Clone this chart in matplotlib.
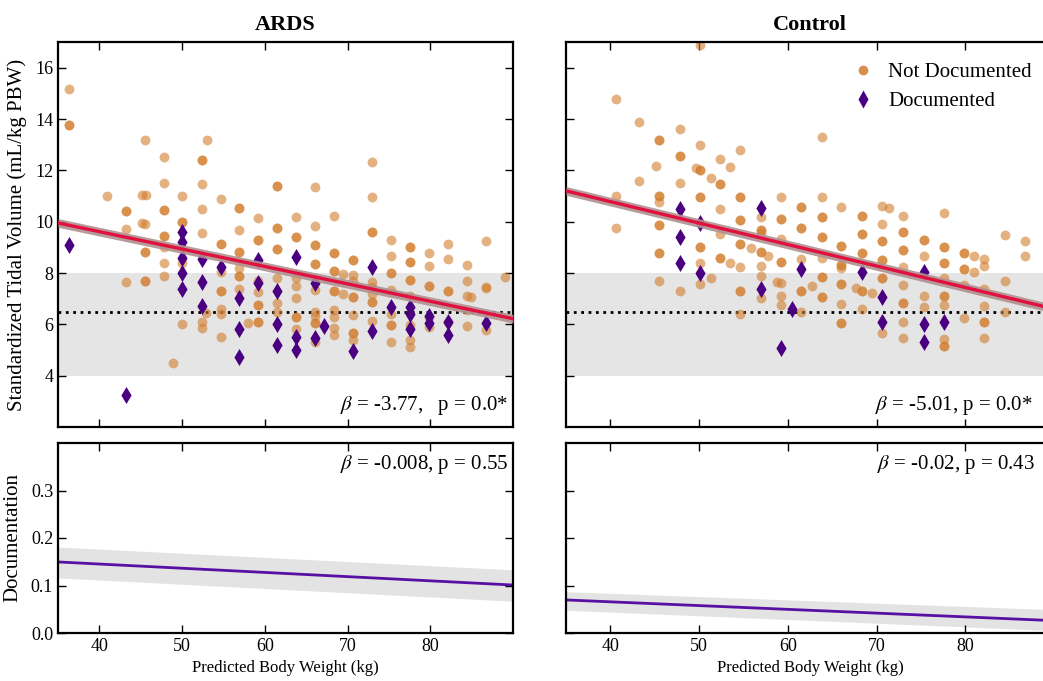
import numpy as np
import matplotlib
matplotlib.use('Agg')
import matplotlib.pyplot as plt
from matplotlib.lines import Line2D

plt.rcParams['font.family'] = 'serif'
plt.rcParams['font.serif'] = ['Liberation Serif', 'DejaVu Serif']
plt.rcParams['mathtext.fontset'] = 'stix'

# ---- data ----
# Not documented: columns of predicted body weight, tidal volumes per column,
# and how many patients sit on each spot (2 = overlapping, darker)
ards_cols = [36.3, 40.9, 43.2, 45.2, 45.6, 45.5, 47.8, 48.9, 50.0, 52.4, 52.9, 53.0,
             54.7, 56.9, 58.0, 59.2, 61.5, 63.8, 66.1, 68.4, 69.5, 70.7, 73.0,
             75.3, 77.6, 79.9, 82.2, 84.5, 84.9, 86.75, 89.0]
ards_vals = [[15.15, 13.75], [11.0], [10.43, 9.7, 7.65], [11.05, 9.95], [11.05],
             [13.2, 9.9, 8.8, 7.7], [12.53, 11.52, 10.45, 9.44, 9.0, 8.38, 7.9], [4.48],
             [11.0, 10.0, 8.38, 6.0], [12.4, 11.45, 10.5, 9.55, 6.1, 5.87], [6.43], [13.2],
             [10.9, 9.13, 8.05, 7.31, 6.6, 6.4, 5.49], [10.55, 9.68, 8.8, 8.18, 7.9, 7.39],
             [6.04], [10.13, 9.29, 7.69, 7.27, 6.75, 6.08],
             [11.39, 9.74, 8.92, 7.79, 6.82, 6.47], [10.2, 9.42, 7.79, 7.51, 7.04, 6.3, 5.8],
             [11.34, 9.84, 9.08, 8.34, 7.34, 6.49, 6.33, 6.06, 5.32],
             [10.23, 8.77, 8.08, 7.3, 6.56, 6.3, 5.84, 5.58], [7.95, 7.2],
             [8.5, 7.92, 7.7, 7.08, 6.36, 5.65, 5.39],
             [12.34, 10.95, 9.58, 7.66, 7.47, 7.2, 6.88, 6.14],
             [9.3, 8.66, 7.99, 7.34, 6.39, 5.97, 5.3], [9.03, 8.44, 7.73, 7.1, 5.97, 5.39, 5.13],
             [8.77, 8.27, 7.51, 6.3, 5.91], [9.13, 8.53, 7.31, 6.1], [8.31, 7.7, 7.12, 6.56, 5.94],
             [7.08], [9.23, 7.47, 7.4, 5.78], [7.86]]
ards_counts = [[1, 2], [1], [2, 1, 1], [1, 1], [1], [1, 1, 2, 2], [1, 1, 2, 2, 1, 1, 1], [1],
               [1, 2, 1, 1], [2, 1, 1, 1, 1, 1], [1], [1], [1, 2, 1, 2, 1, 1, 1],
               [2, 1, 2, 1, 2, 1], [1], [1, 2, 1, 1, 2, 2], [2, 2, 2, 1, 1, 1],
               [1, 2, 1, 1, 1, 2, 1], [1, 1, 2, 2, 1, 1, 1, 2, 1], [1, 2, 2, 2, 1, 1, 1, 1],
               [1, 1], [2, 1, 1, 2, 1, 2, 1], [1, 1, 2, 1, 1, 1, 2, 1], [1, 1, 2, 1, 1, 2, 1],
               [2, 2, 2, 1, 1, 1, 1], [1, 1, 2, 1, 1], [1, 1, 2, 1], [1, 1, 1, 1, 1], [1],
               [1, 1, 1, 1], [1]]

ctrl_cols = [40.6, 43.2, 45.1, 45.5, 47.8, 49.6, 50.1, 51.3, 52.4, 53.5, 54.6, 55.8,
             57.0, 57.8, 58.8, 59.2, 61.5, 62.7, 63.8, 66.0, 67.7, 68.4, 69.5, 70.6,
             71.4, 73.0, 75.3, 77.6, 79.9, 81.0, 82.1, 84.5, 86.75]
ctrl_vals = [[14.77, 11.01, 9.77], [13.88, 11.58], [12.18],
             [13.18, 11.0, 10.75, 9.87, 8.79, 7.69], [13.6, 12.57, 11.49, 7.31], [12.1],
             [16.9, 12.99, 12.01, 10.97, 9.0, 8.4, 7.57], [11.69, 7.82],
             [12.43, 11.47, 10.49, 9.53, 8.57], [12.14, 8.4],
             [12.79, 10.97, 10.06, 9.13, 8.25, 7.31, 6.4], [8.96],
             [10.19, 9.68, 9.55, 8.8, 8.27, 7.88, 7.04], [8.66], [7.66],
             [10.97, 10.1, 9.31, 8.44, 7.6, 7.1, 6.75], [10.56, 9.74, 8.53, 7.31, 6.49],
             [7.51], [13.31, 10.97, 10.19, 9.39, 8.6, 7.83, 7.08],
             [10.58, 9.06, 8.31, 8.18, 7.56, 6.79, 6.06], [7.43],
             [10.22, 9.51, 8.79, 7.31, 6.6], [7.21], [10.61, 9.91, 9.26, 8.51, 7.79, 5.65],
             [10.52], [10.23, 9.58, 8.9, 8.25, 7.53, 6.84, 6.1, 5.48], [9.29, 8.66, 7.12, 6.66],
             [10.32, 9.03, 8.38, 7.79, 7.1, 6.75, 5.42, 5.16], [8.77, 8.14, 7.53, 6.26],
             [8.66, 8.05], [8.53, 8.27, 7.36, 6.71, 6.08, 5.48], [9.48, 7.69, 6.49],
             [9.25, 8.66]]
ctrl_counts = [[1, 1, 1], [1, 1], [1], [2, 2, 1, 2, 2, 1], [1, 2, 1, 1], [1],
               [1, 1, 2, 2, 2, 1, 1], [1, 1], [1, 2, 1, 1, 2], [1, 1], [1, 2, 2, 2, 1, 2, 1],
               [1], [1, 2, 1, 2, 1, 1, 1], [1], [1], [1, 2, 1, 2, 1, 1, 1], [2, 2, 1, 2, 1],
               [1], [1, 1, 2, 2, 1, 2, 2], [1, 2, 2, 1, 2, 1, 2], [1], [2, 2, 2, 2, 1], [1],
               [1, 1, 2, 2, 2, 1], [1], [1, 2, 2, 1, 1, 2, 1, 1], [2, 1, 1, 1],
               [1, 2, 2, 1, 2, 1, 1, 2], [2, 2, 1, 1], [1, 1], [1, 1, 1, 1, 2, 1], [1, 1, 1],
               [1, 1]]

# Documented patients
ards_doc_x = [36.3, 43.2, 50.0, 50.0, 50.0, 50.0, 50.0, 52.4, 52.4, 52.4, 54.7, 56.9, 56.9,
              56.9, 59.2, 59.2, 61.5, 61.5, 61.5, 63.8, 63.8, 63.8, 66.1, 66.1, 67.1, 70.7,
              73.0, 73.0, 75.3, 77.6, 77.6, 77.6, 79.9, 79.9, 82.2, 82.2, 86.75]
ards_doc_y = [9.1, 3.25, 9.6, 9.2, 8.57, 7.99, 7.39, 8.53, 7.64, 6.71, 8.25, 7.04, 5.82,
              4.74, 8.5, 7.6, 7.3, 6.01, 5.19, 8.64, 5.49, 5.0, 7.6, 5.45, 5.93, 4.96,
              8.25, 5.74, 6.69, 6.69, 6.4, 5.8, 6.32, 6.04, 6.1, 5.58, 6.04]
ctrl_doc_x = [47.8, 47.8, 47.8, 50.1, 50.1, 57.0, 57.0, 59.2, 60.5, 61.5, 68.4, 70.6, 70.6,
              75.3, 75.3, 75.3, 77.6]
ctrl_doc_y = [10.48, 9.42, 8.38, 9.96, 7.99, 10.52, 7.38, 5.06, 6.6, 8.14, 8.03, 7.08, 6.08,
              8.03, 6.0, 5.32, 6.08]

# Fitted lines at the x limits (35 and 90 kg)
fit_x = [35, 90]
ards_vt_fit = [9.95, 6.22]
ctrl_vt_fit = [11.2, 6.6]
ards_doc_fit = [0.1496, 0.101]
ards_doc_lo = [0.116, 0.067]
ards_doc_hi = [0.181, 0.133]
ctrl_doc_fit = [0.0696, 0.026]
ctrl_doc_lo = [0.048, 0.005]
ctrl_doc_hi = [0.087, 0.049]

stats_top = [r'$\beta$ = -3.77,   p = 0.0*', r'$\beta$ = -5.01, p = 0.0*']
stats_bot = [r'$\beta$ = -0.008, p = 0.55', r'$\beta$ = -0.02, p = 0.43']
titles = ['ARDS', 'Control']

orange = '#d27d2d'
purple = '#4b0082'
red = '#e0103f'
line_purple = '#5a0fa3'

fig = plt.figure(figsize=(10.43, 6.81), dpi=100)
W, H = 1043.0, 681.0
# right column runs past the right edge, as in the (cropped) original
top_axes = [fig.add_axes([58 / W, 1 - 427 / H, 455 / W, 385 / H]),
            fig.add_axes([566 / W, 1 - 427 / H, 488 / W, 385 / H])]
bot_axes = [fig.add_axes([58 / W, 1 - 633 / H, 455 / W, 190 / H]),
            fig.add_axes([566 / W, 1 - 633 / H, 488 / W, 190 / H])]

panels = [(ards_cols, ards_vals, ards_counts, ards_doc_x, ards_doc_y, ards_vt_fit,
           ards_doc_fit, ards_doc_lo, ards_doc_hi),
          (ctrl_cols, ctrl_vals, ctrl_counts, ctrl_doc_x, ctrl_doc_y, ctrl_vt_fit,
           ctrl_doc_fit, ctrl_doc_lo, ctrl_doc_hi)]

for i, (cols, vals, counts, dx, dy, vfit, dfit, dlo, dhi) in enumerate(panels):
    ax = top_axes[i]
    xs, ys = [], []
    for c, vv, nn in zip(cols, vals, counts):
        for v, n in zip(vv, nn):
            xs += [c] * n
            ys += [v] * n
    ax.axhspan(4, 8, color='#e5e5e5', lw=0, zorder=0)
    ax.axhline(6.5, color='black', ls=':', lw=2, zorder=1)
    ax.scatter(xs, ys, s=50, color=orange, alpha=0.6, lw=0, zorder=2)
    ax.scatter(dx, dy, s=75, marker='d', color=purple, lw=0, zorder=3)
    fx = np.array(fit_x, dtype=float)
    fy = np.array(vfit)
    ax.fill_between(fx, fy - 0.17, fy + 0.17, color='#b09090', alpha=0.9, lw=0, zorder=4)
    ax.plot(fx, fy, color=red, lw=2.4, zorder=5)
    ax.set_xlim(35, 90)
    ax.set_ylim(2, 17)
    ax.set_yticks([4, 6, 8, 10, 12, 14, 16])
    ax.set_xticks([40, 50, 60, 70, 80])
    ax.set_xticklabels([])
    ax.set_title(titles[i], fontsize=16, fontweight='bold', pad=9)
    xpos = 0.989 if i == 0 else 0.957
    ax.text(xpos, 0.055, stats_top[i], transform=ax.transAxes, ha='right', va='center',
            fontsize=15)

    bx = bot_axes[i]
    bx.fill_between(fx, dlo, dhi, color='#e3e3e3', lw=0, zorder=1)
    bx.plot(fx, dfit, color=line_purple, lw=2, zorder=2)
    bx.set_xlim(35, 90)
    bx.set_ylim(0, 0.4)
    bx.set_yticks([0.0, 0.1, 0.2, 0.3])
    bx.set_xticks([40, 50, 60, 70, 80])
    bx.set_xlabel('Predicted Body Weight (kg)', fontsize=12, labelpad=4)
    bpos = 0.989 if i == 0 else 0.961
    bx.text(bpos, 0.885, stats_bot[i], transform=bx.transAxes, ha='right', va='center',
            fontsize=15)

for ax in top_axes + bot_axes:
    for sp in ax.spines.values():
        sp.set_linewidth(1.6)
    ax.tick_params(direction='in', top=True, right=True, length=6, width=1,
                   labelsize=13)

top_axes[1].set_yticklabels([])
bot_axes[1].set_yticklabels([])
top_axes[0].set_ylabel('Standardized Tidal Volume (mL/kg PBW)', fontsize=15, labelpad=6)
bot_axes[0].set_ylabel('Documentation', fontsize=15, labelpad=6)

handles = [Line2D([], [], ls='', marker='o', ms=7, color=orange, alpha=0.85, mec='none'),
           Line2D([], [], ls='', marker='d', ms=9, color=purple, mec='none')]
top_axes[1].legend(handles, ['Not Documented', 'Documented'], loc='upper left',
                   bbox_to_anchor=(0.528, 0.995), frameon=False, fontsize=15,
                   handletextpad=0.2, labelspacing=0.45)

fig.savefig('out.png', dpi=100)
